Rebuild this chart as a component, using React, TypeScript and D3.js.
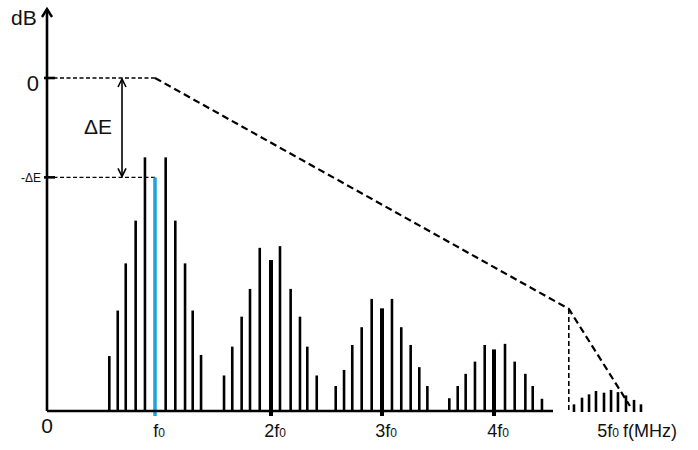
import React from "react";
import * as d3 from "d3";

// harmonic positions (multiples of f0) and their labels
const harmonics = [0, 1, 2, 3, 4, 5];
const harmonicLabels = ["0", "f", "2f", "3f", "4f", "5f"];

// spectral lines per lobe: frequency (in f0 units) and level (dB)
const lobe1Freq = [0.577, 0.655, 0.729, 0.821, 0.907, 1.0, 1.092, 1.175, 1.259, 1.325, 1.397];
const lobe1Level = [-50.1, -41.9, -33.4, -25.7, -14.3, -17.9, -14.3, -25.7, -33.4, -41.9, -49.9];
const lobe2Freq = [1.595, 1.666, 1.747, 1.819, 1.903, 2.0, 2.081, 2.177, 2.261, 2.327, 2.412];
const lobe2Level = [-53.6, -48.4, -43.0, -38.0, -30.6, -32.8, -30.3, -38.0, -43.0, -48.4, -53.6];
const lobe3Freq = [2.583, 2.658, 2.732, 2.817, 2.907, 3.0, 3.089, 3.172, 3.256, 3.333, 3.405];
const lobe3Level = [-55.5, -52.6, -48.1, -44.9, -39.8, -41.5, -39.8, -44.9, -48.1, -52.1, -55.5];
const lobe4Freq = [3.601, 3.676, 3.747, 3.83, 3.917, 4.0, 4.1, 4.188, 4.285, 4.352, 4.436];
const lobe4Level = [-57.7, -55.5, -53.3, -51.1, -48.1, -48.9, -47.9, -51.1, -53.3, -55.5, -57.8];
const lobe5Freq = [4.727, 4.8, 4.864, 4.927, 5.0, 5.064, 5.127, 5.2, 5.273, 5.336];
const lobe5Level = [-58.8, -57.6, -57.0, -56.4, -56.7, -56.2, -56.6, -57.2, -58.0, -58.8];

// envelope (dashed) : frequency and level
const envelopeFreq = [1, 4.68, 5.236];
const envelopeLevel = [0, -41.6, -59.1];
const deltaE = -17.9;
const floorLevel = -60;

const W = 698;
const H = 450;
const FONT = "'Liberation Sans', Arial, sans-serif";
const BLUE = "#1ba3dd";

export default function App() {
  const x = d3.scaleLinear().domain(harmonics).range([47, 155, 271, 382, 494, 604]);
  const y = d3.scaleLinear().domain([floorLevel, 0]).range([411, 78]);
  const y0 = y(floorLevel);
  const x0 = x(0);

  const lobes = [
    { f: lobe1Freq, l: lobe1Level, c: 1 },
    { f: lobe2Freq, l: lobe2Level, c: 2 },
    { f: lobe3Freq, l: lobe3Level, c: 3 },
    { f: lobe4Freq, l: lobe4Level, c: 4 },
    { f: lobe5Freq, l: lobe5Level, c: 5 },
  ];

  const line = d3
    .line<number>()
    .x((_, i) => x(envelopeFreq[i]))
    .y((d) => y(d));

  const bars: React.ReactNode[] = [];
  lobes.forEach((lobe, li) => {
    lobe.f.forEach((f, i) => {
      const isCenter = Math.abs(f - lobe.c) < 1e-6;
      const blue = isCenter && lobe.c === 1;
      const thick = isCenter && lobe.c >= 2 && lobe.c <= 4;
      bars.push(
        <line
          key={`b${li}-${i}`}
          x1={x(f)}
          x2={x(f)}
          y1={isCenter && lobe.c <= 4 ? y0 + 5 : y0 + 1}
          y2={y(lobe.l[i])}
          stroke={blue ? BLUE : "#000"}
          strokeWidth={blue ? 3.5 : thick ? 4 : 2.6}
        />
      );
    });
  });

  const arrowX = 122;
  const axisTop = 9;

  return (
    <svg
      width={W}
      height={H}
      style={{ position: "absolute", left: 0, top: 0, display: "block", background: "#fff" }}
      fontFamily={FONT}
    >
      <rect width={W} height={H} fill="#fff" />

      {/* reference dashed lines */}
      <line x1={x0} x2={x(1)} y1={y(0)} y2={y(0)} stroke="#000" strokeWidth={1.4} strokeDasharray="4,2.5" />
      <line x1={x0} x2={x(1)} y1={y(deltaE)} y2={y(deltaE)} stroke="#000" strokeWidth={1.4} strokeDasharray="4,2.5" />

      {/* envelope */}
      <path d={line(envelopeLevel) || ""} fill="none" stroke="#000" strokeWidth={2.2} strokeDasharray="7,4" />
      <line
        x1={x(envelopeFreq[1])}
        x2={x(envelopeFreq[1])}
        y1={y(envelopeLevel[1])}
        y2={y0}
        stroke="#000"
        strokeWidth={1.6}
        strokeDasharray="5,3"
      />

      {/* spectral lines */}
      {bars}

      {/* axes */}
      <line x1={x0} x2={553} y1={y0} y2={y0} stroke="#000" strokeWidth={2.6} />
      <line x1={x0} x2={x0} y1={y0} y2={axisTop} stroke="#000" strokeWidth={2.6} />
      <path
        d={`M${x0 - 5},${axisTop + 8} L${x0},${axisTop} L${x0 + 5},${axisTop + 8}`}
        fill="none"
        stroke="#000"
        strokeWidth={2.4}
      />
      <line x1={x0 - 3} x2={x0 + 8} y1={y(0)} y2={y(0)} stroke="#000" strokeWidth={2.6} />
      <line x1={x0 - 3} x2={x0 + 8} y1={y(deltaE)} y2={y(deltaE)} stroke="#000" strokeWidth={2.6} />

      {/* delta E arrow */}
      <line x1={arrowX} x2={arrowX} y1={y(0) + 1} y2={y(deltaE) - 1} stroke="#000" strokeWidth={1.6} />
      <path
        d={`M${arrowX - 4},${y(0) + 9} L${arrowX},${y(0) + 1} L${arrowX + 4},${y(0) + 9}`}
        fill="none"
        stroke="#000"
        strokeWidth={1.6}
      />
      <path
        d={`M${arrowX - 4},${y(deltaE) - 9} L${arrowX},${y(deltaE) - 1} L${arrowX + 4},${y(deltaE) - 9}`}
        fill="none"
        stroke="#000"
        strokeWidth={1.6}
      />

      {/* y labels */}
      <text x={11} y={25} fontSize={21} fill="#111">dB</text>
      <text x={39} y={y(0) + 13} fontSize={22} textAnchor="end" fill="#111">0</text>
      <text x={41} y={y(deltaE) + 5} fontSize={12} textAnchor="end" fill="#111">-ΔE</text>
      <text x={98} y={134} fontSize={21} textAnchor="middle" fill="#111">ΔE</text>

      {/* x labels */}
      {harmonics.map((h, i) =>
        i === 0 ? (
          <text key={h} x={x(h)} y={433} fontSize={21} textAnchor="middle" fill="#111">
            {harmonicLabels[i]}
          </text>
        ) : (
          <text key={h} x={x(h) + 4} y={437} fontSize={18} textAnchor="middle" fill="#111">
            {harmonicLabels[i]}
            <tspan fontSize={12} dy={0}>0</tspan>
          </text>
        )
      )}
      <text x={650} y={437} fontSize={18} textAnchor="middle" fill="#111">f(MHz)</text>
    </svg>
  );
}
